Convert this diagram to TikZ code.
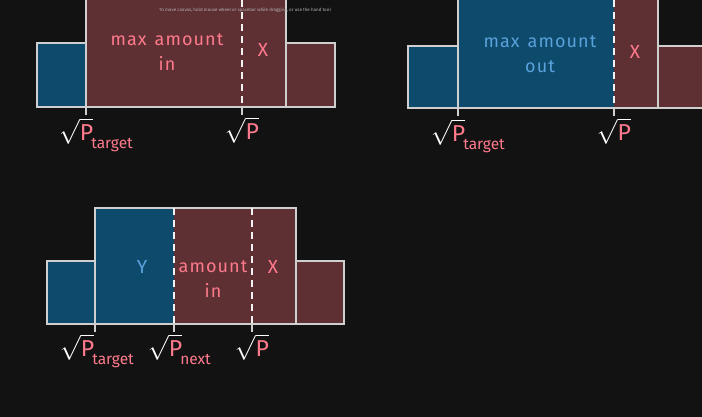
\documentclass[tikz,border=0pt]{standalone}
\usepackage{fontspec}
\setmainfont{Fira Sans}
\usetikzlibrary{positioning}

\definecolor{bgdark}{HTML}{121212}
\definecolor{liqred}{HTML}{5E2F33}
\definecolor{liqblue}{HTML}{0E4A6B}
\definecolor{edgegray}{HTML}{CFCFCF}
\definecolor{pinktxt}{HTML}{FF7A8C}
\definecolor{bluetxt}{HTML}{5AA2DC}

% wide handwritten-like area text
\newcommand{\areafont}{\fontsize{18}{25}\selectfont\addfontfeatures{LetterSpace=6}\spaceskip 8pt\relax}
% sqrt(P) price label with optional subscript
\newcommand{\rootP}[1]{{\fontsize{23}{24}\selectfont\color{white}$\sqrt{\textcolor{pinktxt}{\mbox{P}}}$}%
  \hspace{-2pt}\textcolor{pinktxt}{\raisebox{-1.5ex}{\fontsize{15.5}{15}\selectfont #1}}}

\begin{document}
\begin{tikzpicture}[x=1pt,y=-1pt,
    redbar/.style={fill=liqred},
    bluebar/.style={fill=liqblue},
    outline/.style={draw=edgegray,line width=1.4pt},
    dashline/.style={draw=white!90!gray,line width=1.6pt,dash pattern=on 7pt off 5pt},
    tickmark/.style={draw=edgegray,line width=1.4pt},
    areatxt/.style={font=\areafont,align=center},
    lettertxt/.style={font=\fontsize{19}{19}\selectfont},
    pricelbl/.style={inner sep=0pt}]

\useasboundingbox (0,0) rectangle (702,417);
\fill[bgdark] (0,0) rectangle (702,417);

\begin{scope}
\clip (0,0) rectangle (702,417);

% top left: max amount in
\fill[bluebar] (37,43) rectangle (86,107);
\fill[redbar] (86,-5) rectangle (286,107);
\fill[redbar] (286,43) rectangle (335,107);
\draw[outline] (37,43) rectangle (86,107);
\draw[outline] (86,-5) rectangle (286,107);
\draw[outline] (286,43) rectangle (335,107);
\coordinate (a1) at (86,107);
\coordinate (a2) at (242,107);
\draw[dashline] (242,0) -- (a2);
\draw[tickmark] (a1) -- ++(0,8) coordinate (a1e);
\draw[tickmark] (a2) -- ++(0,8) coordinate (a2e);
\node[areatxt,text=pinktxt] (inA) at (167,52) {max amount\\in};
\node[lettertxt,text=pinktxt] (xA) at (263,50) {X};
\node[pricelbl,anchor=north west] (tgtA) at ([xshift=-27pt,yshift=-3pt]a1e) {\rootP{target}};
\node[pricelbl,anchor=north] (pA) at ([xshift=-1pt,yshift=-2pt]a2e) {\rootP{}};

% top right: max amount out
\fill[bluebar] (408,46) rectangle (458,108);
\fill[bluebar] (458,-5) rectangle (614,108);
\fill[redbar] (614,-5) rectangle (658,108);
\fill[redbar] (658,46) rectangle (710,108);
\draw[outline] (408,46) rectangle (458,108);
\draw[outline] (458,-5) rectangle (658,108);
\draw[outline] (658,46) rectangle (710,108);
\coordinate (b1) at (458,108);
\coordinate (b2) at (614,108);
\draw[dashline] (614,0) -- (b2);
\draw[tickmark] (b1) -- ++(0,8) coordinate (b1e);
\draw[tickmark] (b2) -- ++(0,8) coordinate (b2e);
\node[areatxt,text=bluetxt] (outB) at (540,54) {max amount\\out};
\node[lettertxt,text=pinktxt] (xB) at (635,52) {X};
\node[pricelbl,anchor=north west] (tgtB) at ([xshift=-27pt,yshift=-3pt]b1e) {\rootP{target}};
\node[pricelbl,anchor=north] (pB) at ([xshift=-1pt,yshift=-2pt]b2e) {\rootP{}};

% bottom: Y + amount in
\fill[bluebar] (47,261) rectangle (95,324);
\fill[bluebar] (95,208) rectangle (174,324);
\fill[redbar] (174,208) rectangle (296,324);
\fill[redbar] (296,261) rectangle (344,324);
\draw[outline] (47,261) rectangle (95,324);
\draw[outline] (95,208) rectangle (296,324);
\draw[outline] (296,261) rectangle (344,324);
\coordinate (c1) at (95,324);
\coordinate (c2) at (174,324);
\coordinate (c3) at (252,324);
\draw[dashline] (174,208) -- (c2);
\draw[dashline] (252,208) -- (c3);
\draw[tickmark] (c1) -- ++(0,8) coordinate (c1e);
\draw[tickmark] (c2) -- ++(0,8) coordinate (c2e);
\draw[tickmark] (c3) -- ++(0,8) coordinate (c3e);
\node[lettertxt,text=bluetxt] (yC) at (142,267) {Y};
\node[areatxt,text=pinktxt] (inC) at (213,279) {amount\\in};
\node[lettertxt,text=pinktxt] (xC) at (273,267) {X};
\node[pricelbl,anchor=north west] (tgtC) at ([xshift=-35pt,yshift=-2pt]c1e) {\rootP{target}};
\node[pricelbl,anchor=north west] (nxtC) at ([xshift=-26pt,yshift=-2pt]c2e) {\rootP{next}};
\node[pricelbl,anchor=north] (pC) at ([xshift=-1pt,yshift=-2pt]c3e) {\rootP{}};

% canvas hint
\node[font=\fontsize{4.5}{5}\selectfont,text=gray!60] (hint) at (245,10)
  {To move canvas, hold mouse wheel or spacebar while dragging, or use the hand tool};
\end{scope}
\end{tikzpicture}
\end{document}
